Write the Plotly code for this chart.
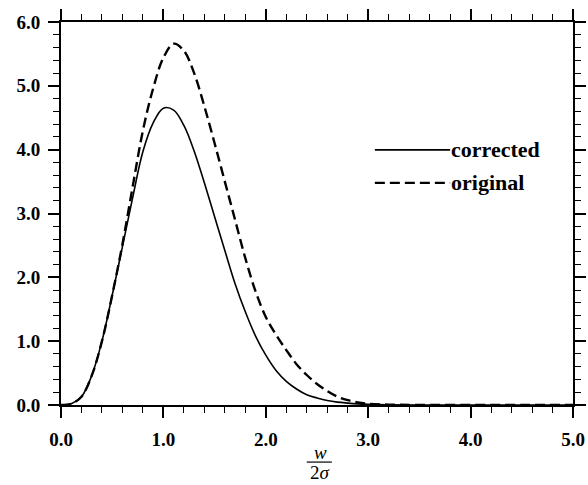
import plotly.graph_objects as go

# values, x = w / (2 sigma)
x_vals = [0.0, 0.1, 0.2, 0.3, 0.4, 0.5, 0.6, 0.7, 0.8, 0.9,
          1.0, 1.1, 1.2, 1.3, 1.4, 1.5, 1.6, 1.7, 1.8, 1.9,
          2.0, 2.1, 2.2, 2.3, 2.4, 2.5, 2.6, 2.7, 2.8, 2.9,
          3.0, 3.2, 3.5, 4.0, 4.5, 5.0]

corrected = [0.0, 0.02, 0.13, 0.46, 1.00, 1.72, 2.48, 3.25, 3.97, 4.42,
             4.65, 4.62, 4.38, 3.98, 3.48, 2.95, 2.42, 1.90, 1.46, 1.08,
             0.78, 0.54, 0.37, 0.25, 0.16, 0.11, 0.07, 0.045, 0.03, 0.018,
             0.01, 0.004, 0.001, 0.0, 0.0, 0.0]

original = [0.0, 0.02, 0.13, 0.46, 1.00, 1.72, 2.52, 3.42, 4.30, 4.96,
            5.44, 5.66, 5.55, 5.20, 4.68, 4.10, 3.50, 2.90, 2.30, 1.78,
            1.38, 1.10, 0.86, 0.64, 0.47, 0.33, 0.22, 0.13, 0.075, 0.04,
            0.02, 0.006, 0.001, 0.0, 0.0, 0.0]

series_names = ["corrected", "original"]

font_family = "Liberation Serif, Times New Roman, serif"

fig = go.Figure()
fig.add_trace(go.Scatter(
    x=x_vals, y=corrected, mode="lines", name=series_names[0],
    line=dict(color="black", width=1.6, shape="spline", smoothing=1.0),
))
fig.add_trace(go.Scatter(
    x=x_vals, y=original, mode="lines", name=series_names[1],
    line=dict(color="black", width=2.4, dash="10px,5px", shape="spline", smoothing=1.0),
))

axis_common = dict(
    showline=True, linecolor="black", linewidth=2, mirror="allticks",
    ticks="outside", ticklen=11, tickwidth=2, tickcolor="black",
    showgrid=False, zeroline=False, automargin=False,
    tickfont=dict(family=font_family, size=19, color="black", weight="bold"),
    minor=dict(ticks="outside", ticklen=6, tickwidth=1, tickcolor="black", dtick=0.2),
)

fig.update_xaxes(range=[0, 5], dtick=1, tickformat=".1f", ticklabelstandoff=5, **axis_common)
fig.update_yaxes(range=[0, 6], dtick=1, tickformat=".1f", ticklabelstandoff=4, **axis_common)

# hand-drawn legend: long line samples like the original
legend_shapes = []
legend_notes = []
for i, (name, dash, w) in enumerate(zip(series_names, ["solid", "10px,5px"], [1.6, 2.4])):
    yy = 0.666 - i * 0.086
    legend_shapes.append(dict(type="line", xref="paper", yref="paper",
                              x0=0.613, x1=0.760, y0=yy, y1=yy,
                              line=dict(color="black", width=w, dash=dash)))
    legend_notes.append(dict(xref="paper", yref="paper", x=0.758, y=yy,
                             xanchor="left", yanchor="middle", showarrow=False,
                             text="<b>" + name + "</b>",
                             font=dict(family=font_family, size=22, color="black")))

# x-axis title as a stacked fraction w / 2σ
frac_font = dict(family=font_family, size=19, color="black")
legend_notes.append(dict(xref="paper", yref="paper", x=0.506, y=-0.123,
                         xanchor="center", yanchor="middle", showarrow=False,
                         text="<i>w</i>", font=frac_font))
legend_notes.append(dict(xref="paper", yref="paper", x=0.506, y=-0.176,
                         xanchor="center", yanchor="middle", showarrow=False,
                         text="2<i>σ</i>", font=frac_font))
legend_shapes.append(dict(type="line", xref="paper", yref="paper",
                          x0=0.480, x1=0.529, y0=-0.149, y1=-0.149,
                          line=dict(color="black", width=1.2)))

fig.update_layout(
    width=588, height=485,
    margin=dict(l=61, r=15, t=22, b=80),
    plot_bgcolor="white", paper_bgcolor="white",
    showlegend=False,
    shapes=legend_shapes,
    annotations=legend_notes,
)

# drop the default page margin so the 588x485 figure fills the window
fig.write_html("out.html", config={"displayModeBar": False},
               post_script="document.body.style.margin='0';")
